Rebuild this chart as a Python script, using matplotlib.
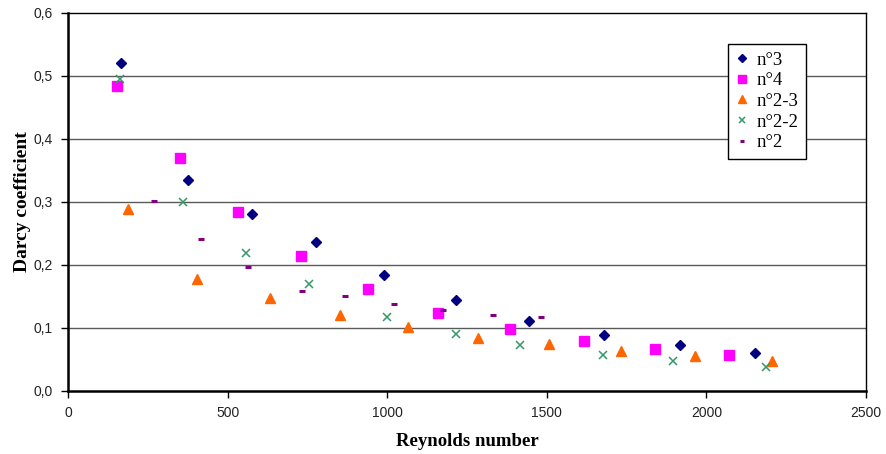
import matplotlib
matplotlib.use("Agg")
import matplotlib.pyplot as plt
from matplotlib.ticker import FuncFormatter

# Data
n3_x = [166, 377, 577, 776, 991, 1215, 1445, 1678, 1917, 2153]
n3_y = [0.520, 0.334, 0.281, 0.236, 0.184, 0.1435, 0.111, 0.089, 0.073, 0.061]
n4_x = [154, 350, 534, 730, 940, 1159, 1386, 1617, 1840, 2070]
n4_y = [0.484, 0.370, 0.284, 0.214, 0.161, 0.123, 0.098, 0.079, 0.066, 0.0565]
n23_x = [187, 404, 633, 851, 1064, 1283, 1506, 1734, 1965, 2204]
n23_y = [0.288, 0.177, 0.148, 0.121, 0.102, 0.084, 0.074, 0.063, 0.055, 0.0475]
n22_x = [163, 359, 558, 756, 1000, 1217, 1417, 1677, 1896, 2186]
n22_y = [0.494, 0.300, 0.218, 0.169, 0.118, 0.090, 0.073, 0.057, 0.0475, 0.038]
n2_x = [269, 418, 564, 734, 867, 1020, 1174, 1331, 1483]
n2_y = [0.301, 0.2405, 0.196, 0.158, 0.151, 0.138, 0.128, 0.121, 0.117]

x_ticks = [0, 500, 1000, 1500, 2000, 2500]
y_ticks = [0.0, 0.1, 0.2, 0.3, 0.4, 0.5, 0.6]

fig = plt.figure(figsize=(8.86, 4.54), dpi=100)
ax = fig.add_axes([68/886, 1-391/454, (866-68)/886, (391-12.5)/454])

for yv in y_ticks[1:-1]:
    ax.axhline(yv, color="#5a5a5a", lw=1.0, zorder=1)

ax.plot(n3_x, n3_y, ls="none", marker="D", ms=5.3, color="#000080", mec="#000080", label="n°3", zorder=3)
ax.plot(n4_x, n4_y, ls="none", marker="s", ms=6.5, color="#FF00FF", mec="#FF00FF", label="n°4", zorder=3)
ax.plot(n23_x, n23_y, ls="none", marker="^", ms=7, color="#FF6600", mec="#FF6600", label="n°2-3", zorder=3)
ax.plot(n22_x, n22_y, ls="none", marker="x", ms=6, mew=1.1, color="#339966", label="n°2-2", zorder=3)
ax.plot(n2_x, n2_y, ls="none", marker="_", ms=4, mew=2.2, color="#800080", label="n°2", zorder=3)

ax.set_xlim(0, 2500)
ax.set_ylim(0, 0.6)
ax.set_xticks(x_ticks)
ax.set_yticks(y_ticks)
ax.yaxis.set_major_formatter(FuncFormatter(lambda v, p: f"{v:.1f}".replace(".", ",")))
ax.xaxis.set_major_formatter(FuncFormatter(lambda v, p: f"{int(v)}"))
ax.tick_params(direction="out", length=5, width=1, colors="black", labelsize=10, pad=6)
for lab in ax.get_xticklabels() + ax.get_yticklabels():
    lab.set_fontfamily("Liberation Sans")
    lab.set_color("#222222")

for side in ["left", "bottom"]:
    ax.spines[side].set_linewidth(1.8)
for side in ["top", "right"]:
    ax.spines[side].set_linewidth(1.0)

ax.set_xlabel("Reynolds number", fontfamily="Liberation Serif", fontweight="bold", fontsize=13.5, labelpad=9)
ax.set_ylabel("Darcy coefficient", fontfamily="Liberation Serif", fontweight="bold", fontsize=14, labelpad=2)

leg = ax.legend(loc="upper left", bbox_to_anchor=(728/886, 1-44/454), bbox_transform=fig.transFigure,
                borderaxespad=0, frameon=True, fancybox=False, edgecolor="black", framealpha=1,
                prop={"family": "Liberation Serif", "size": 13.5}, labelspacing=0.19,
                handlelength=0.7, handletextpad=0.4, borderpad=0.4, markerscale=0.8)
leg.get_frame().set_linewidth(1.0)
leg.set_zorder(5)

fig.savefig("out.png", dpi=100)
